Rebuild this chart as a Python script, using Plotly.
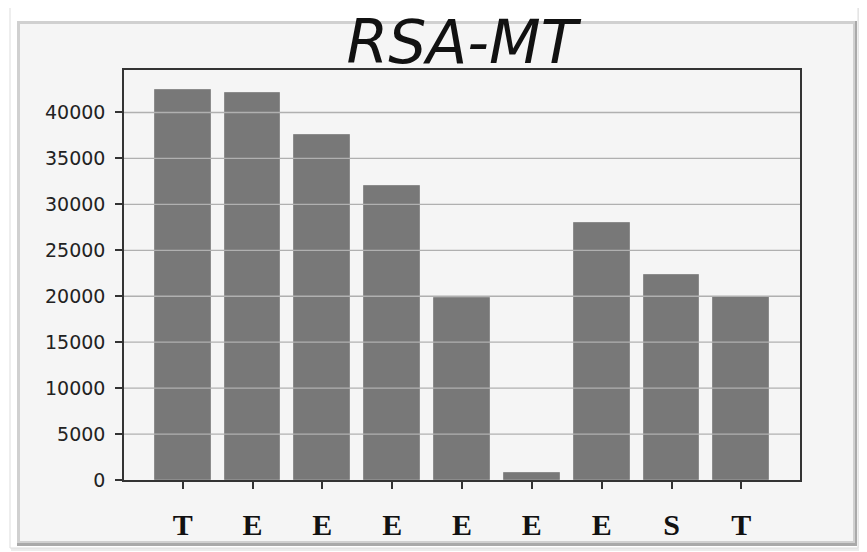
import plotly.graph_objects as go

# ---- data ----
letters = ["T", "E", "E", "E", "E", "E", "E", "S", "T"]
values = [42500, 42100, 37600, 32000, 19850, 800, 28000, 22300, 19900]
y_ticks = [0, 5000, 10000, 15000, 20000, 25000, 30000, 35000, 40000]
y_tick_labels = [str(v) for v in y_ticks]
title_text = "RSA-MT"

positions = list(range(len(letters)))

# the page body adds an 8px offset, so the figure is sized to fit the window
OFF = 8
W, H = 867 - OFF, 552 - OFF
ML, MT = 124 - OFF, 70 - OFF
PW, PH = 676, 410
MR, MB = W - ML - PW, H - MT - PH


def px_x(p):
    return (p - OFF - ML) / PW


def px_y(p):
    return (MT + PH - (p - OFF)) / PH


def prect(x0, y0, x1, y1, fill, line_color=None, line_width=0):
    return dict(type="rect", xref="paper", yref="paper", layer="below",
                x0=px_x(x0), x1=px_x(x1), y0=px_y(y0), y1=px_y(y1),
                fillcolor=fill,
                line=dict(color=line_color or fill, width=line_width))


fig = go.Figure()
fig.add_trace(go.Bar(
    x=positions, y=values, width=0.8,
    marker=dict(color="#787878", line=dict(color="#8c8c8c", width=1)),
    hoverinfo="y",
))

shapes = [
    # soft outer shadow and white frame
    prect(11, 8, 861, 551, "#ececec"),
    prect(10, 7, 858, 548, "#ffffff", "#dddddd", 1),
    # bevel of the inner panel: darker bottom/right, lighter top/left
    prect(17, 21, 857, 546, "#a9a9a9"),
    prect(17, 21, 855, 543, "#d0d0d0"),
    prect(20, 24, 853, 541, "#f5f5f5"),
]
# grid lines drawn over the bars (as in the reference)
for v in y_ticks[1:]:
    shapes.append(dict(type="line", xref="paper", yref="y", layer="above",
                       x0=0, x1=1, y0=v, y1=v,
                       line=dict(color="#b0b0b0", width=1.3)))

fig.update_layout(
    width=W, height=H,
    margin=dict(l=ML, r=MR, t=MT, b=MB, autoexpand=False),
    paper_bgcolor="#ffffff",
    plot_bgcolor="#f5f5f5",
    showlegend=False,
    bargap=0,
    shapes=shapes,
    title=dict(
        text=title_text,
        x=(ML + PW / 2) / W, xanchor="center",
        y=1 - (42 - OFF) / H, yanchor="middle", yref="container",
        font=dict(family="DejaVu Sans", size=60, color="#111111", style="italic"),
    ),
    xaxis=dict(
        range=[-0.84, len(letters) - 1 + 0.84],
        tickmode="array", tickvals=positions, ticktext=letters,
        tickfont=dict(family="Liberation Serif", size=30, color="#111111", weight="bold"),
        ticks="outside", ticklen=7, tickwidth=1.5, tickcolor="#333333",
        ticklabelstandoff=10,
        showgrid=False, zeroline=False, automargin=False,
        showline=True, mirror=True, linecolor="#333333", linewidth=1.5,
        layer="above traces", fixedrange=True,
    ),
    yaxis=dict(
        range=[0, max(values) * 1.05],
        tickmode="array", tickvals=y_ticks, ticktext=y_tick_labels,
        tickfont=dict(family="DejaVu Sans", size=19, color="#222222"),
        ticks="outside", ticklen=7, tickwidth=1.5, tickcolor="#333333",
        ticklabelstandoff=6,
        showgrid=False, zeroline=False, automargin=False,
        showline=True, mirror=True, linecolor="#333333", linewidth=1.5,
        layer="above traces", fixedrange=True,
    ),
)

fig.write_html("out.html")
